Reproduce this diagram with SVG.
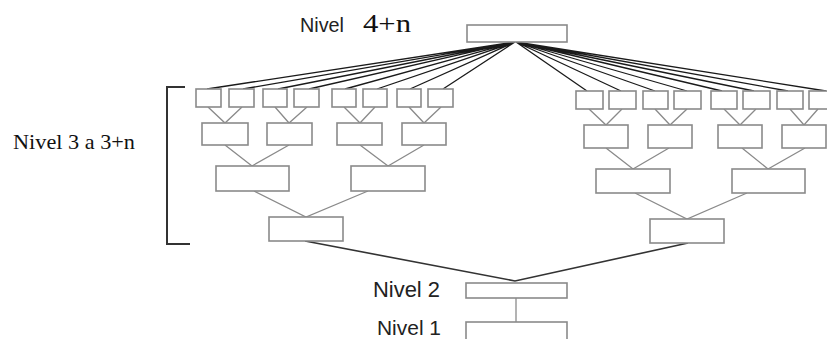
<svg xmlns="http://www.w3.org/2000/svg" width="827" height="339" viewBox="0 0 827 339">
<style>
.b{fill:#fff;stroke:#8a8a8a;stroke-width:1.6}
.t{stroke:#8a8a8a;stroke-width:1.3;fill:none}
.f{stroke:#1a1a1a;stroke-width:1.3;fill:none}
.d{stroke:#333;stroke-width:1.6;fill:none}
.s{font-family:"Liberation Sans",Arial,sans-serif;fill:#222}
.r{font-family:"Liberation Serif","Times New Roman",serif;fill:#111}
</style>
<rect width="827" height="339" fill="#fff"/>
<g id="connectors">
<g class="f">
<path d="M515,42L207,89M515,42L243,89M515,42L278,89M515,42L309,89M515,42L345,89M515,42L377,89M515,42L410,89M515,42L443,89"/>
<path d="M516,42L587,91M516,42L621,91M516,42L655,91M516,42L687,91M516,42L722,91M516,42L754,91M516,42L788,91M516,42L826,91"/>
</g>
<g class="t">
<path d="M208,107L225,123L242,107M275,107L289,123L307,107M344,107L360,123L375,107M409,107L424,123L441,107"/>
<path d="M225,145L252,166L289,145M360,145L388,166L424,145"/>
<path d="M254,191L306,217L368,191"/>
<path d="M589,109L606,125L622,109M655,109L670,125L687,109M724,109L740,125L756,109M790,109L804,125L818,109"/>
<path d="M606,148L633,169L669,148M742,148L768,169L805,148"/>
<path d="M635,193L687,219L747,193"/>
<path d="M516,298L516,322"/>
</g>
<path class="d" d="M305,241L515,281L688,243"/>
<path d="M185,87H167V244H190" stroke="#333" stroke-width="2" fill="none"/>
</g>
<g id="top"><rect class="b" x="467" y="25" width="100" height="17"/></g>
<g id="lvlA-left">
<rect class="b" x="196" y="89" width="25" height="18"/>
<rect class="b" x="229" y="89" width="25" height="18"/>
<rect class="b" x="263" y="89" width="24" height="18"/>
<rect class="b" x="294" y="89" width="25" height="18"/>
<rect class="b" x="332" y="89" width="24" height="18"/>
<rect class="b" x="363" y="89" width="24" height="18"/>
<rect class="b" x="397" y="89" width="24" height="18"/>
<rect class="b" x="428" y="89" width="25" height="18"/>
</g>
<g id="lvlA-right">
<rect class="b" x="576" y="91" width="27" height="18"/>
<rect class="b" x="609" y="91" width="27" height="18"/>
<rect class="b" x="643" y="91" width="25" height="18"/>
<rect class="b" x="674" y="91" width="27" height="18"/>
<rect class="b" x="711" y="91" width="26" height="18"/>
<rect class="b" x="743" y="91" width="27" height="18"/>
<rect class="b" x="777" y="91" width="26" height="18"/>
<rect class="b" x="809" y="91" width="26" height="18"/>
</g>
<g id="lvlB-left">
<rect class="b" x="202" y="123" width="46" height="22"/>
<rect class="b" x="267" y="123" width="45" height="22"/>
<rect class="b" x="337" y="123" width="45" height="22"/>
<rect class="b" x="402" y="123" width="44" height="22"/>
</g>
<g id="lvlB-right">
<rect class="b" x="584" y="125" width="44" height="23"/>
<rect class="b" x="648" y="125" width="44" height="23"/>
<rect class="b" x="718" y="125" width="44" height="23"/>
<rect class="b" x="782" y="125" width="44" height="23"/>
</g>
<g id="lvlC-left">
<rect class="b" x="216" y="166" width="73" height="25"/>
<rect class="b" x="351" y="166" width="74" height="25"/>
</g>
<g id="lvlC-right">
<rect class="b" x="596" y="169" width="74" height="24"/>
<rect class="b" x="732" y="169" width="73" height="24"/>
</g>
<g id="lvlD-left"><rect class="b" x="269" y="217" width="74" height="24"/></g>
<g id="lvlD-right"><rect class="b" x="650" y="219" width="74" height="24"/></g>
<g id="nivel2"><rect class="b" x="466" y="283" width="101" height="15"/></g>
<g id="nivel1"><rect class="b" x="466" y="322" width="101" height="20"/></g>
<g id="labels">
<text class="s" x="300" y="32" font-size="21" textLength="44" lengthAdjust="spacingAndGlyphs">Nivel</text>
<text class="r" x="363" y="32" font-size="25" textLength="48" lengthAdjust="spacingAndGlyphs">4+n</text>
<text class="r" x="13" y="149" font-size="22" textLength="122" lengthAdjust="spacingAndGlyphs">Nivel 3 a 3+n</text>
<text class="s" x="373" y="297" font-size="22" textLength="67" lengthAdjust="spacingAndGlyphs">Nivel 2</text>
<text class="s" x="377" y="335" font-size="21" textLength="64" lengthAdjust="spacingAndGlyphs">Nivel 1</text>
</g>
</svg>
